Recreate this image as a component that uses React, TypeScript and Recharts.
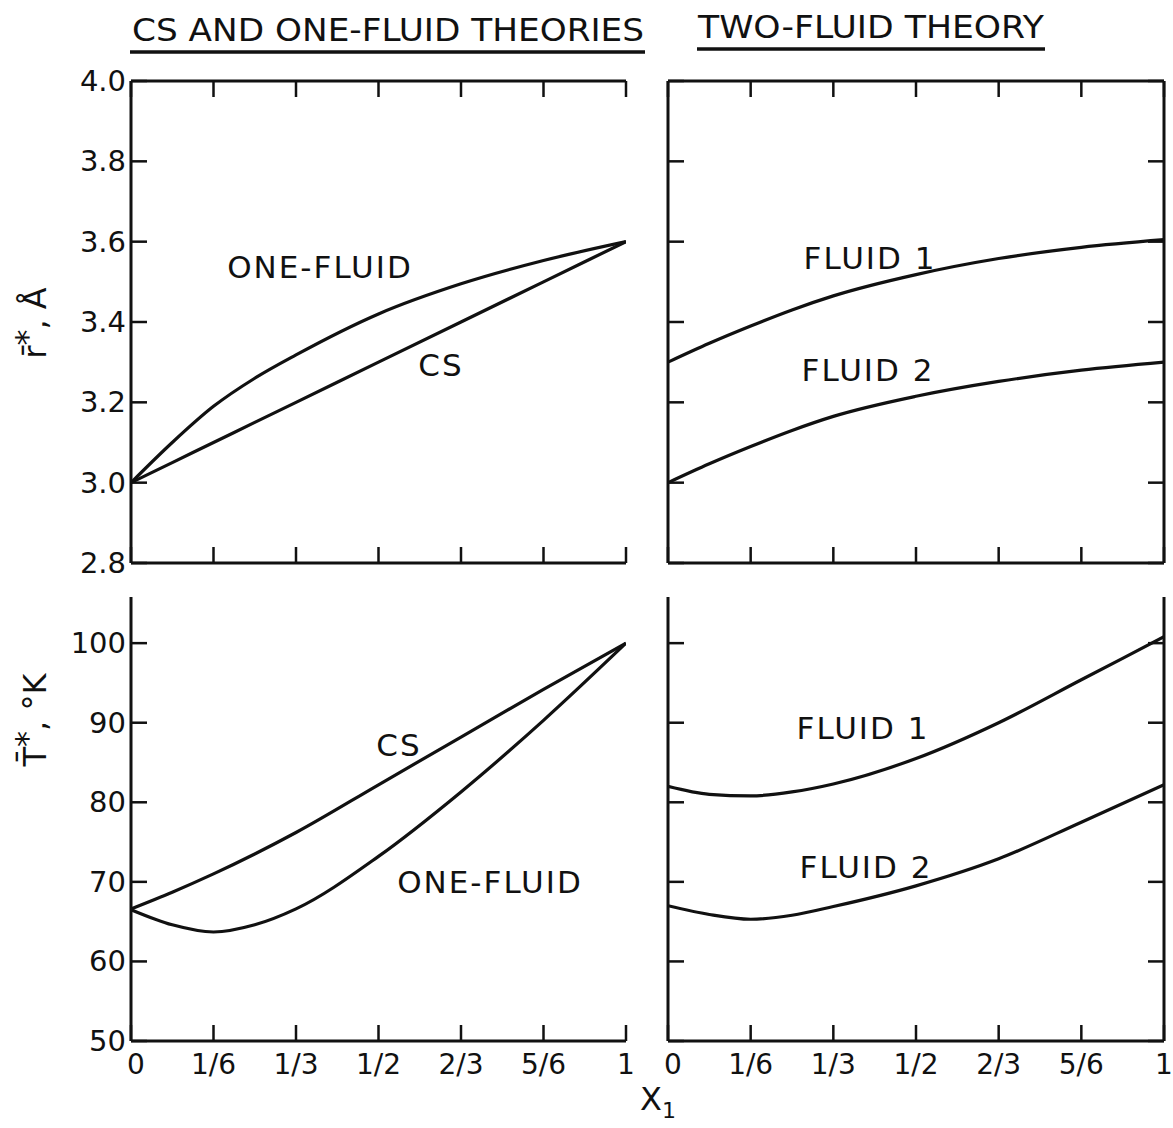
import React from "react";
import { LineChart, Line, XAxis, YAxis } from "recharts";

// composition grid (mole fraction x1) and tick marks
const xGrid = [0, 1 / 12, 1 / 6, 1 / 4, 1 / 3, 1 / 2, 2 / 3, 5 / 6, 1];
const xTicks = [0, 1 / 6, 1 / 3, 1 / 2, 2 / 3, 5 / 6, 1];
const xTickLabels = ["0", "1/6", "1/3", "1/2", "2/3", "5/6", "1"];
const rTicks = [2.8, 3.0, 3.2, 3.4, 3.6, 3.8, 4.0];
const tTicks = [50, 60, 70, 80, 90, 100];

// r*, Angstrom
const rCS = [3.0, 3.05, 3.1, 3.15, 3.2, 3.3, 3.4, 3.5, 3.6];
const rOneFluid = [3.0, 3.1, 3.19, 3.26, 3.318, 3.42, 3.495, 3.553, 3.6];
const rFluid1 = [3.3, 3.347, 3.39, 3.43, 3.465, 3.518, 3.558, 3.586, 3.605];
const rFluid2 = [3.0, 3.047, 3.09, 3.13, 3.165, 3.215, 3.252, 3.28, 3.3];

// T*, K
const tCS = [66.6, 68.7, 71.0, 73.5, 76.2, 82.2, 88.2, 94.2, 100];
const tOneFluid = [66.5, 64.6, 63.7, 64.6, 66.6, 73.2, 81.3, 90.3, 100];
const tFluid1 = [82.0, 81.0, 80.8, 81.3, 82.3, 85.5, 90.0, 95.4, 100.8];
const tFluid2 = [67.0, 65.9, 65.3, 65.8, 66.9, 69.5, 72.9, 77.5, 82.2];

const build = (a: number[], b: number[]) =>
  xGrid.map((x, i) => ({ x, a: a[i], b: b[i] }));

const INK = "#111";
const FONT = "'DejaVu Sans', sans-serif";
const TICK = 16;
const axisStyle = { stroke: INK, strokeWidth: 3 };

const leftTick = (labels: boolean, fmt: (v: number) => string) => (p: any) => (
  <g>
    <line x1={p.x} y1={p.y} x2={p.x + TICK} y2={p.y} stroke={INK} strokeWidth={2.5} />
    {labels && (
      <text x={p.x - 5} y={p.y} textAnchor="end" dominantBaseline="central"
        fontSize={29} fontFamily={FONT} fill={INK}>
        {fmt(p.payload.value)}
      </text>
    )}
  </g>
);

const rightTick = (p: any) => (
  <line x1={p.x} y1={p.y} x2={p.x - TICK} y2={p.y} stroke={INK} strokeWidth={2.5} />
);

const topTick = (p: any) => (
  <line x1={p.x} y1={p.y} x2={p.x} y2={p.y + TICK} stroke={INK} strokeWidth={2.5} />
);

const bottomTick = (labels: boolean) => (p: any) => {
  const i = xTicks.findIndex((t) => Math.abs(t - p.payload.value) < 1e-6);
  return (
    <g>
      <line x1={p.x} y1={p.y} x2={p.x} y2={p.y - TICK} stroke={INK} strokeWidth={2.5} />
      {labels && (
        <text x={p.x + (i === 0 ? 5 : 0)} y={p.y + 23} textAnchor="middle" dominantBaseline="central"
          fontSize={28} fontFamily={FONT} fill={INK}>
          {xTickLabels[i]}
        </text>
      )}
    </g>
  );
};

function Panel({
  left, top, width, height, data, yDomain, yTicks, yLabels, fmt, topAxis, rightAxis,
  xLabels, topH, bottomH, leftW, rightW, marginTop, marginRight,
}: any) {
  return (
    <div style={{ position: "absolute", left, top }}>
      <LineChart width={width} height={height} data={data}
        margin={{ top: marginTop, right: marginRight, bottom: 0, left: 0 }}>
        <XAxis xAxisId="b" dataKey="x" type="number" domain={[0, 1]} ticks={xTicks}
          interval={0} height={bottomH} axisLine={axisStyle} tickLine={false}
          tickSize={0} tickMargin={0} tick={bottomTick(xLabels)} allowDataOverflow />
        {topAxis && (
          <XAxis xAxisId="t" orientation="top" dataKey="x" type="number" domain={[0, 1]}
            ticks={xTicks} interval={0} height={topH} axisLine={axisStyle} tickLine={false}
            tickSize={0} tickMargin={0} tick={topTick} allowDataOverflow />
        )}
        <YAxis yAxisId="l" type="number" domain={yDomain} ticks={yTicks} interval={0}
          width={leftW} axisLine={axisStyle} tickLine={false} tickSize={0} tickMargin={0}
          tick={leftTick(yLabels, fmt)} allowDataOverflow />
        {rightAxis && (
          <YAxis yAxisId="r" orientation="right" type="number" domain={yDomain} ticks={yTicks}
            interval={0} width={rightW} axisLine={axisStyle} tickLine={false} tickSize={0}
            tickMargin={0} tick={rightTick} allowDataOverflow />
        )}
        <Line xAxisId="b" yAxisId="l" dataKey="a" type="monotone" stroke={INK}
          strokeWidth={3.2} dot={false} isAnimationActive={false} />
        <Line xAxisId="b" yAxisId="l" dataKey="b" type="monotone" stroke={INK}
          strokeWidth={3.2} dot={false} isAnimationActive={false} />
      </LineChart>
    </div>
  );
}

const label = (x: number, y: number, s: string) => (
  <text x={x} y={y} textAnchor="middle" dominantBaseline="central" fontSize={31}
    fontFamily={FONT} fill={INK} letterSpacing={2}>
    {s}
  </text>
);

export default function App() {
  const r1 = (v: number) => v.toFixed(1);
  const t0 = (v: number) => String(v);
  return (
    <div style={{ position: "absolute", left: 0, top: 0, width: 1173, height: 1128, background: "#fff" }}>
      <Panel left={40} top={60} width={600} height={540} data={build(rOneFluid, rCS)}
        yDomain={[2.8, 4.0]} yTicks={rTicks} yLabels fmt={r1} topAxis xLabels={false}
        topH={21} bottomH={37} leftW={91} rightW={0} marginTop={0} marginRight={14} />
      <Panel left={660} top={60} width={513} height={540} data={build(rFluid1, rFluid2)}
        yDomain={[2.8, 4.0]} yTicks={rTicks} yLabels={false} fmt={r1} topAxis rightAxis
        xLabels={false} topH={21} bottomH={37} leftW={8} rightW={9} marginTop={0} marginRight={0} />
      <Panel left={40} top={580} width={600} height={548} data={build(tCS, tOneFluid)}
        yDomain={[50, 105.8]} yTicks={tTicks} yLabels fmt={t0} xLabels
        bottomH={87} leftW={91} rightW={0} marginTop={17} marginRight={14} />
      <Panel left={660} top={580} width={513} height={548} data={build(tFluid1, tFluid2)}
        yDomain={[50, 105.8]} yTicks={tTicks} yLabels={false} fmt={t0} rightAxis xLabels
        bottomH={87} leftW={8} rightW={9} marginTop={17} marginRight={0} />

      <svg width={1173} height={1128} style={{ position: "absolute", left: 0, top: 0, pointerEvents: "none" }}>
        <text x={388} y={41} textAnchor="middle" fontSize={32} fontFamily={FONT} fill={INK}
          textLength={512} lengthAdjust="spacingAndGlyphs">
          CS AND ONE-FLUID THEORIES
        </text>
        <line x1={130} y1={52} x2={645} y2={52} stroke={INK} strokeWidth={3.5} />
        <text x={871} y={38} textAnchor="middle" fontSize={32} fontFamily={FONT} fill={INK}
          textLength={346} lengthAdjust="spacingAndGlyphs">
          TWO-FLUID THEORY
        </text>
        <line x1={697} y1={49} x2={1045} y2={49} stroke={INK} strokeWidth={3.5} />

        {label(320, 267, "ONE-FLUID")}
        {label(441, 365, "CS")}
        {label(870, 258, "FLUID 1")}
        {label(868, 370, "FLUID 2")}
        {label(399, 745, "CS")}
        {label(490, 882, "ONE-FLUID")}
        {label(863, 728, "FLUID 1")}
        {label(866, 867, "FLUID 2")}

        <text transform="translate(46,323) rotate(-90)" textAnchor="middle" fontSize={32}
          fontFamily={FONT} fill={INK}>
          {"r\u0304"}
          <tspan dy={-8}>*</tspan>
          <tspan dy={8}>, Å</tspan>
        </text>
        <text transform="translate(46,720) rotate(-90)" textAnchor="middle" fontSize={32}
          fontFamily={FONT} fill={INK}>
          {"T\u0304"}
          <tspan dy={-8}>*</tspan>
          <tspan dy={8}>, °K</tspan>
        </text>
        <text x={640} y={1110} fontSize={32} fontFamily={FONT} fill={INK}>
          X<tspan dy={8} fontSize={22}>1</tspan>
        </text>
      </svg>
    </div>
  );
}
